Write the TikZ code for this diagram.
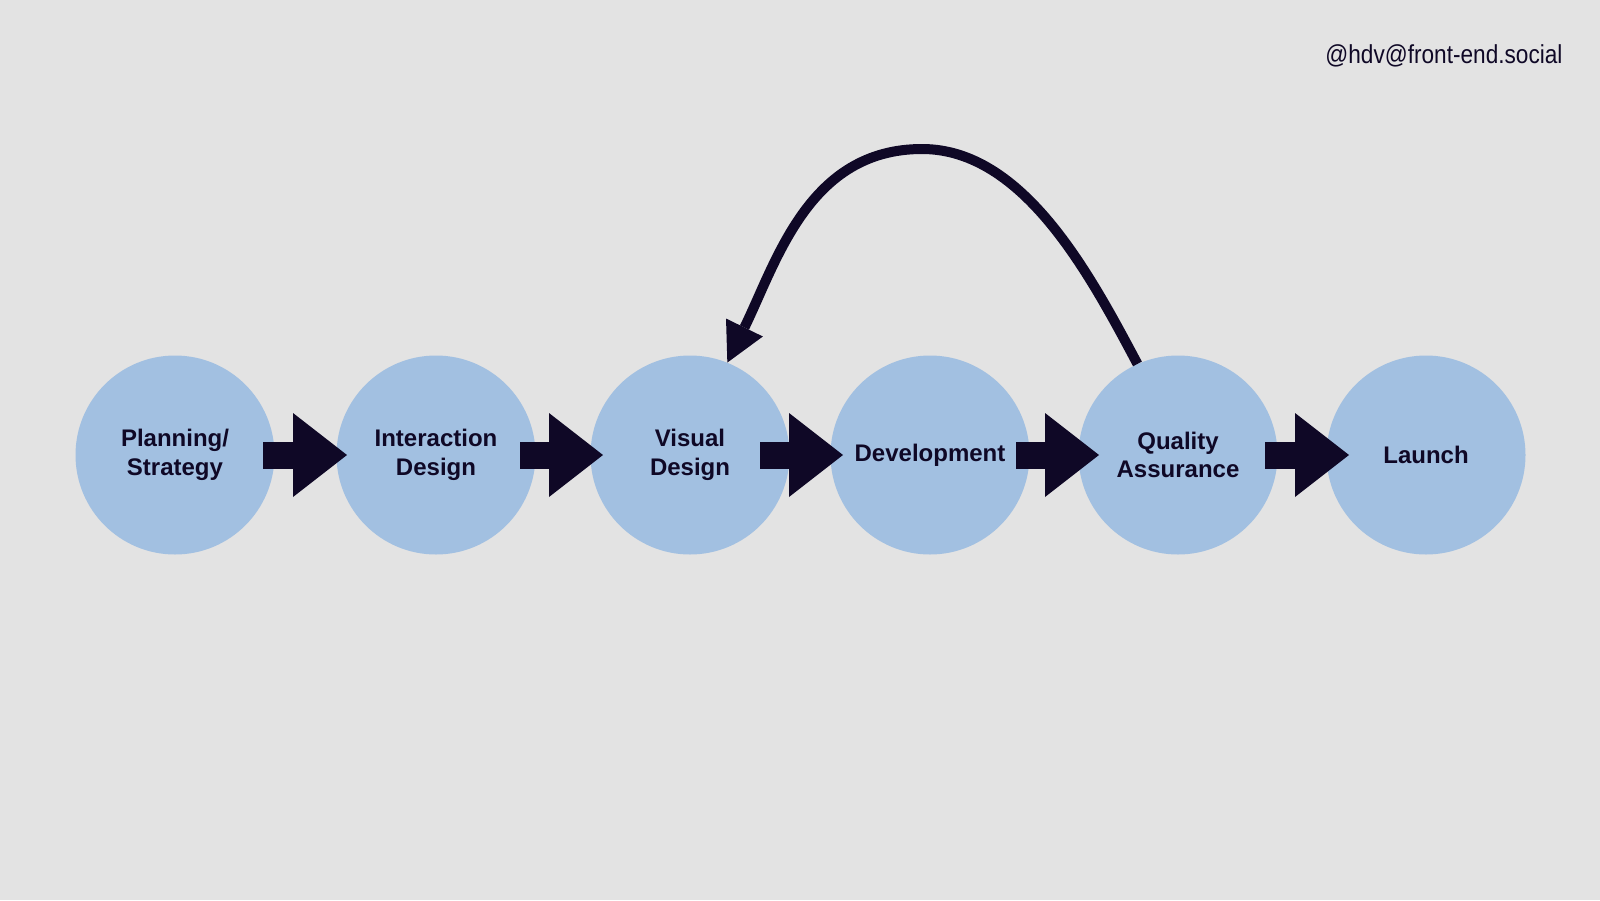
\documentclass[tikz,border=0pt]{standalone}
\usepackage{fontspec}
\setmainfont{Liberation Sans}
\newfontfamily\handlefont[FakeStretch=0.87]{Liberation Sans}
\usetikzlibrary{arrows.meta, positioning}
\definecolor{bg}{HTML}{E3E3E3}
\definecolor{stagefill}{HTML}{A2C0E1}
\definecolor{ink}{HTML}{0F0826}

\begin{document}
\begin{tikzpicture}[x=1pt, y=-1pt,
    stage/.style={circle, fill=stagefill, minimum size=199pt, inner sep=0pt, align=center,
      text=ink, font=\fontsize{24}{28.5}\selectfont\bfseries},
    flow/.style={draw=ink, line width=27pt, -{Triangle[width=84pt, length=54pt, line width=0pt]}},
    back/.style={draw=ink, line width=10pt, -{Triangle[width=41pt, length=39pt, line width=0pt]}}
  ]
    \fill[bg] (0,0) rectangle (1600,900);
    \useasboundingbox (0,0) rectangle (1600,900);
    % stages
    \foreach \i/\x/\t in {0/175/{Planning/\\Strategy}, 1/436/{Interaction\\Design},
        2/690/{Visual\\Design}, 3/930/{Development}, 4/1178/{Quality\\Assurance}, 5/1426/{Launch}} {
      \node[stage] (s\i) at (\x,455) {\t};
    }
    % forward arrows
    \foreach \a/\b/\s/\e in {0/1/88/89, 1/2/84/87, 2/3/70/87, 3/4/86/79, 4/5/87/77} {
      \draw[flow, shorten <=\s pt, shorten >=\e pt] (s\a.center) -- (s\b.center);
    }
    % loop back from QA to visual design
    \coordinate (top) at (922,149);
    \draw[back] (s4.114) to[out=118, in=0, looseness=0.85] (top)
      to[out=180, in=64] (s2.68);
    \node[font=\handlefont\fontsize{26}{30}\selectfont, text=ink, anchor=base east] (handle)
      at (1566,63) {@hdv@front-end.social};
\end{tikzpicture}
\end{document}
